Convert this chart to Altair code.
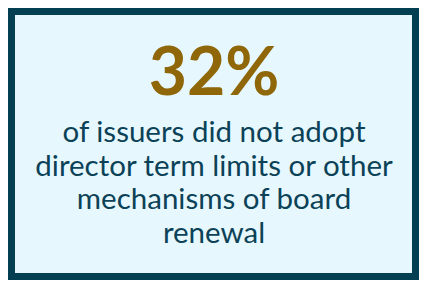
import altair as alt
import pandas as pd

headline = ["32%"]
lines = ["of issuers did not adopt", "director term limits or other",
         "mechanisms of board", "renewal"]
line_no = [1, 2, 3, 4]

big = pd.DataFrame({"t": headline})
body = pd.DataFrame({"t": lines, "line": line_no})

BORDER = "#023F53"
FILL = "#E6F8FE"

big_text = alt.Chart(big).mark_text(
    font="Lato", fontSize=66, fontWeight="bold", color="#8F6608",
    baseline="alphabetic", align="center"
).encode(text="t:N", x=alt.value(199), y=alt.value(80))

body_text = alt.Chart(body).mark_text(
    font="Lato", fontSize=29.5, color="#0C4257",
    baseline="alphabetic", align="center"
).encode(
    text="t:N",
    x=alt.value(199),
    y=alt.Y("line:Q", scale=alt.Scale(domain=[1, 4], range=[127, 228]), axis=None),
)

chart = alt.layer(big_text, body_text).properties(
    width=411, height=272,
    autosize=alt.AutoSizeParams(type="fit", contains="padding"),
    padding=7, background=BORDER,
).configure_view(fill=FILL, stroke=None)

chart.save("out.html", embed_options={"renderer": "svg", "actions": False})
